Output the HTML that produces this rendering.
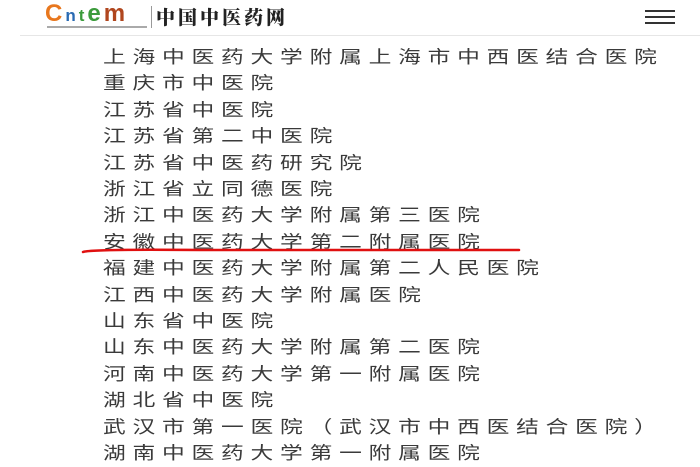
<!DOCTYPE html>
<html><head><meta charset="utf-8">
<style>
html,body{margin:0;padding:0;background:#fff;width:700px;height:467px;overflow:hidden;position:relative;font-family:"Liberation Sans","Noto Sans CJK SC",sans-serif;}
.hdr{position:absolute;left:20px;right:0;top:35px;height:1px;background:#e6e6e6;}
.logo{position:absolute;left:45px;top:2px;font-weight:bold;font-size:24px;line-height:24px;letter-spacing:3px;}
.tag{position:absolute;left:151px;top:6px;width:1px;height:22px;background:#999;}
.name{position:absolute;left:156px;top:3px;font-family:"Noto Serif CJK SC",serif;font-weight:900;font-size:19px;color:#222;letter-spacing:3px;}
.ham{position:absolute;left:645px;width:30px;height:2px;background:#333;}
.l{position:absolute;left:103px;font-size:17.5px;letter-spacing:5.2px;color:#3a3a3a;white-space:nowrap;line-height:20px;transform:scaleX(1.3);transform-origin:0 0;}
</style></head><body>
<div class="logo"><span style="color:#e8771e">C</span><span style="color:#2a6bb3;font-size:17px">n</span><span style="color:#3b9b3b;font-size:17px">t</span><span style="color:#3b9b3b">e</span><span style="color:#b0461e">m</span></div>
<div style="position:absolute;left:47px;top:26px;width:100px;height:2px;background:#aaa"></div>
<div class="tag"></div>
<div class="name">中国中医药网</div>
<div class="ham" style="top:10px"></div>
<div class="ham" style="top:16px"></div>
<div class="ham" style="top:22px"></div>
<div class="hdr"></div>
<div class="l" style="top:47px">上海中医药大学附属上海市中西医结合医院</div>
<div class="l" style="top:73.4px">重庆市中医院</div>
<div class="l" style="top:99.8px">江苏省中医院</div>
<div class="l" style="top:126.2px">江苏省第二中医院</div>
<div class="l" style="top:152.6px">江苏省中医药研究院</div>
<div class="l" style="top:179px">浙江省立同德医院</div>
<div class="l" style="top:205.4px">浙江中医药大学附属第三医院</div>
<div class="l" style="top:231.8px">安徽中医药大学第二附属医院</div>
<div class="l" style="top:258.2px">福建中医药大学附属第二人民医院</div>
<div class="l" style="top:284.6px">江西中医药大学附属医院</div>
<div class="l" style="top:311px">山东省中医院</div>
<div class="l" style="top:337.4px">山东中医药大学附属第二医院</div>
<div class="l" style="top:363.8px">河南中医药大学第一附属医院</div>
<div class="l" style="top:390.2px">湖北省中医院</div>
<div class="l" style="top:416.6px">武汉市第一医院（武汉市中西医结合医院）</div>
<div class="l" style="top:443px">湖南中医药大学第一附属医院</div>
<svg style="position:absolute;left:0;top:0" width="700" height="467"><path d="M83 252 Q90 249 200 250 L519 250" stroke="#e01010" stroke-width="2.5" fill="none" stroke-linecap="round"/></svg>
</body></html>
